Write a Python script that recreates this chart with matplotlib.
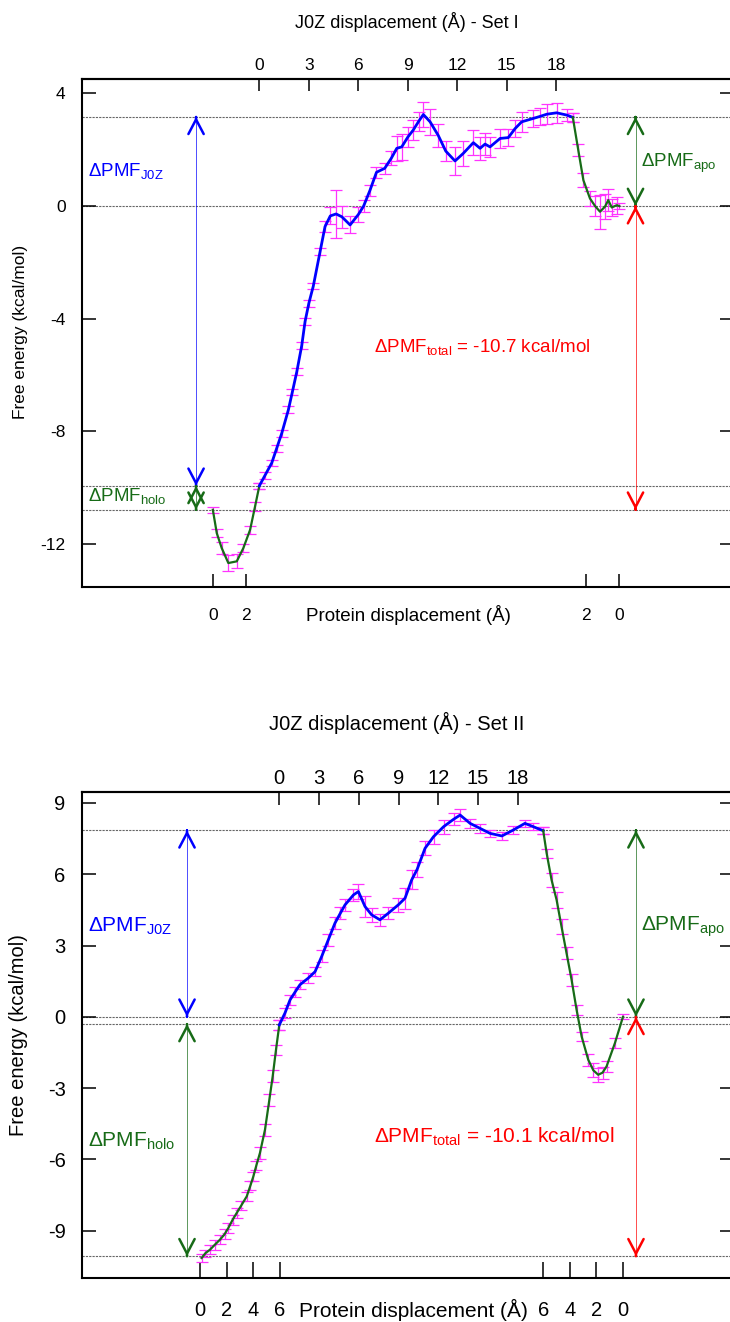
import matplotlib
matplotlib.use("Agg")
import matplotlib.pyplot as plt

plt.rcParams['font.family'] = ['Liberation Sans', 'DejaVu Sans']
plt.rcParams['mathtext.fontset'] = 'custom'
plt.rcParams['mathtext.rm'] = 'Liberation Sans'
plt.rcParams['mathtext.it'] = 'Liberation Sans:italic'
plt.rcParams['axes.unicode_minus'] = False

# ---------------- Set I data ----------------
# holo: protein displacement (A), PMF (kcal/mol), error
set1_holo_disp = [0.0, 0.24, 0.54, 0.94, 1.45, 1.85, 2.26, 2.56, 2.82]
set1_holo_pmf = [-10.78, -11.61, -12.14, -12.67, -12.61, -12.14, -11.49, -10.66, -9.93]
set1_holo_err = [0.1, 0.15, 0.2, 0.3, 0.25, 0.15, 0.15, 0.15, 0.1]

# J0Z: ligand displacement (A)
set1_j0z_disp = [0.0, 0.35, 0.75, 1.05, 1.36, 1.76, 2.0, 2.27, 2.57, 2.77, 3.0, 3.27,
                 3.68, 3.98, 4.3, 4.65, 5.0, 5.5, 6.0, 6.32, 6.7, 7.1, 7.6, 8.0,
                 8.33, 8.63, 9.0, 9.33, 9.65, 9.94, 10.35, 10.85, 11.3, 11.86, 12.36,
                 12.97, 13.38, 13.68, 13.98, 14.59, 15.09, 15.5, 15.9, 16.6, 17.0,
                 17.42, 18.02, 18.63, 19.0]
set1_j0z_pmf = [-9.93, -9.55, -9.12, -8.6, -8.06, -7.23, -6.6, -5.88, -4.95, -4.1, -3.45, -2.84,
                -1.62, -0.73, -0.35, -0.28, -0.38, -0.67, -0.3, 0.0, 0.55, 1.2, 1.34, 1.7,
                2.05, 2.1, 2.45, 2.7, 3.0, 3.25, 2.99, 2.5, 1.95, 1.6, 1.87,
                2.25, 2.05, 2.2, 2.1, 2.4, 2.43, 2.75, 2.99, 3.11, 3.18,
                3.26, 3.31, 3.23, 3.15]
set1_j0z_err = [0.1, 0.12, 0.12, 0.12, 0.12, 0.12, 0.12, 0.12, 0.12, 0.12, 0.12, 0.12,
                0.12, 0.2, 0.3, 0.85, 0.4, 0.3, 0.25, 0.2, 0.2, 0.2, 0.2, 0.25,
                0.45, 0.45, 0.35, 0.35, 0.35, 0.45, 0.45, 0.4, 0.35, 0.5, 0.45,
                0.45, 0.4, 0.4, 0.35, 0.35, 0.3, 0.3, 0.35, 0.3, 0.3,
                0.35, 0.35, 0.2, 0.15]

# apo: protein displacement (A)
set1_apo_disp = [2.81, 2.48, 2.17, 1.77, 1.46, 1.16, 0.86, 0.66, 0.45, 0.15, 0.0]
set1_apo_pmf = [3.15, 1.99, 0.92, 0.27, 0.0, -0.2, -0.02, 0.21, -0.05, 0.03, 0.0]
set1_apo_err = [0.15, 0.2, 0.25, 0.25, 0.35, 0.6, 0.45, 0.4, 0.3, 0.3, 0.1]

set1_levels = [3.17, 0.0, -9.93, -10.78]

# ---------------- Set II data ----------------
set2_holo_disp = [0.12, 0.4, 0.75, 1.1, 1.5, 1.85, 2.13, 2.45, 2.76, 3.1, 3.52, 3.8,
                  4.02, 4.25, 4.52, 4.9, 5.23, 5.48, 5.73, 5.98]
set2_holo_pmf = [-10.15, -9.95, -9.8, -9.6, -9.38, -9.15, -8.89, -8.55, -8.26, -7.95, -7.56, -7.1,
                 -6.72, -6.25, -5.73, -4.75, -3.49, -2.51, -1.39, -0.34]
set2_holo_err = [0.15, 0.15, 0.2, 0.2, 0.2, 0.2, 0.2, 0.2, 0.2, 0.2, 0.2, 0.2,
                 0.2, 0.2, 0.25, 0.25, 0.25, 0.25, 0.2, 0.2]

set2_j0z_disp = [0.0, 0.43, 0.81, 1.2, 1.56, 2.19, 2.7, 3.2, 3.7, 4.2, 4.6, 4.96,
                 5.6, 5.97, 6.47, 6.97, 7.6, 8.23, 8.98, 9.49, 9.99, 10.4, 11.0, 11.64,
                 12.4, 13.15, 13.65, 14.4, 15.15, 15.9, 16.8, 17.66, 18.54, 19.17, 19.92]
set2_j0z_pmf = [-0.34, 0.16, 0.71, 1.05, 1.35, 1.63, 1.9, 2.54, 3.24, 3.94, 4.35, 4.71,
                5.13, 5.27, 4.64, 4.29, 4.08, 4.36, 4.71, 4.99, 5.76, 6.2, 7.09, 7.58,
                8.0, 8.31, 8.49, 8.14, 7.93, 7.72, 7.61, 7.86, 8.14, 8.0, 7.83]
set2_j0z_err = [0.2, 0.2, 0.2, 0.2, 0.2, 0.2, 0.2, 0.25, 0.25, 0.25, 0.25, 0.25,
                0.25, 0.3, 0.45, 0.3, 0.25, 0.25, 0.3, 0.45, 0.4, 0.3, 0.3, 0.3,
                0.3, 0.25, 0.25, 0.2, 0.2, 0.15, 0.15, 0.15, 0.15, 0.15, 0.15]

set2_apo_disp = [6.02, 5.76, 5.39, 5.01, 4.64, 4.26, 3.88, 3.5, 3.12, 2.62, 2.24, 1.87,
                 1.54, 1.24, 0.61, 0.0]
set2_apo_pmf = [7.83, 6.88, 5.76, 4.92, 3.8, 2.68, 1.56, 0.29, -0.83, -1.81, -2.25, -2.44,
                -2.35, -2.09, -1.11, 0.0]
set2_apo_err = [0.15, 0.2, 0.3, 0.35, 0.3, 0.25, 0.25, 0.2, 0.2, 0.25, 0.3, 0.3,
                0.25, 0.25, 0.2, 0.1]

set2_levels = [7.85, 0.0, -0.3, -10.08]

j0z_ticks = [0, 3, 6, 9, 12, 15, 18]

BLUE = '#0000ff'
GREEN = '#176b17'
RED = '#ff0000'
MAGENTA = '#ff33ff'

fig = plt.figure(figsize=(7.30, 13.22), dpi=100)


def fx(px):
    return px / 730.0


def fy(py):
    return 1 - py / 1322.0


def head(ax, x, y, direction, color):
    # bold open arrow head pointing to (x, y)
    ax.annotate('', xy=(x, y), xytext=(x, y - direction * 0.02),
                arrowprops=dict(arrowstyle='->,head_length=1.05,head_width=0.55',
                                color=color, lw=1.8, shrinkA=0, shrinkB=0))


def double_arrow(ax, x, y1, y2, color):
    ax.plot([x, x], [y1, y2], color=color, lw=0.7, alpha=0.7, zorder=2)
    head(ax, x, y1, 1 if y1 > y2 else -1, color)
    head(ax, x, y2, 1 if y2 > y1 else -1, color)


def panel(ax, holo_x, holo_y, holo_e, j_x, j_y, j_e, apo_x, apo_y, apo_e,
          levels, fs, lw_main):
    ekw = dict(fmt='none', ecolor=MAGENTA, elinewidth=0.9, capsize=4.5, capthick=0.9, zorder=3)
    ax.errorbar(holo_x, holo_y, yerr=holo_e, **ekw)
    ax.errorbar(j_x, j_y, yerr=j_e, **ekw)
    ax.errorbar(apo_x, apo_y, yerr=apo_e, **ekw)
    ax.plot(holo_x, holo_y, color=GREEN, lw=lw_main * 0.8, zorder=4)
    ax.plot(j_x, j_y, color=BLUE, lw=lw_main, zorder=4)
    ax.plot(apo_x, apo_y, color=GREEN, lw=lw_main * 0.8, zorder=4)
    for lv in levels:
        ax.axhline(lv, color='#666666', lw=0.8, ls=(0, (2, 1)), zorder=1)
    for s in ax.spines.values():
        s.set_linewidth(1.5)
    ax.tick_params(axis='y', direction='in', length=10, width=1.1, right=True,
                   labelsize=fs, pad=11.5)


# ---------------- Set I panel ----------------
FS1 = 12.5
ax1 = fig.add_axes([fx(81.5), fy(586.7), fx(734 - 81.5), (586.7 - 79) / 1322.0])
off1_holo = 2.82
off1_apo = 21.81
h1x = [p - off1_holo for p in set1_holo_disp]
a1x = [off1_apo - p for p in set1_apo_disp]
panel(ax1, h1x, set1_holo_pmf, set1_holo_err, set1_j0z_disp, set1_j0z_pmf, set1_j0z_err,
      a1x, set1_apo_pmf, set1_apo_err, set1_levels, FS1, 2.0)
ax1.set_xlim(-10.78, 28.77)
ax1.set_ylim(-13.51, 4.51)
ax1.set_yticks([4, 0, -4, -8, -12])
ax1.set_xticks([0 - off1_holo, 2 - off1_holo, off1_apo - 2, off1_apo - 0])
ax1.set_xticklabels(['0', '2', '2', '0'])
ax1.tick_params(axis='x', direction='in', length=9.6, width=1.1, labelsize=FS1, pad=15)
top1 = ax1.secondary_xaxis('top')
top1.set_xticks(j0z_ticks)
top1.tick_params(direction='in', length=8.4, width=1.1, labelsize=FS1, pad=4.5)
top1.spines['top'].set_linewidth(1.5)

x_left1 = (196 - 259.3) / 16.5
x_right1 = (635.5 - 259.3) / 16.5
double_arrow(ax1, x_left1, 3.17, -9.93, BLUE)
double_arrow(ax1, x_left1, -9.93, -10.78, GREEN)
double_arrow(ax1, x_right1, 3.17, 0.0, GREEN)
double_arrow(ax1, x_right1, 0.0, -10.78, RED)
ax1.text((88 - 259.3) / 16.5, 1.25, 'ΔPMF$_{\\mathrm{J0Z}}$', color=BLUE, fontsize=13.5, va='center')
ax1.text((88 - 259.3) / 16.5, -10.3, 'ΔPMF$_{\\mathrm{holo}}$', color=GREEN, fontsize=13.5, va='center')
ax1.text((641 - 259.3) / 16.5, 1.5, 'ΔPMF$_{\\mathrm{apo}}$', color=GREEN, fontsize=13.5, va='center')
ax1.text((482 - 259.3) / 16.5, -5.0, 'ΔPMF$_{\\mathrm{total}}$ = -10.7 kcal/mol', color=RED,
         fontsize=13.5, va='center', ha='center')

fig.text(fx(407), fy(22), 'J0Z displacement (Å) - Set I', fontsize=13, ha='center', va='center')
fig.text(fx(408), fy(615), 'Protein displacement (Å)', fontsize=13.5, ha='center', va='center')
fig.text(fx(21), fy(332), 'Free energy (kcal/mol)', fontsize=12.5, ha='center', va='center',
         rotation=90)

# ---------------- Set II panel ----------------
FS2 = 14.5
ax2 = fig.add_axes([fx(81.5), fy(1277.7), fx(734 - 81.5), (1277.7 - 792) / 1322.0])
off2_holo = 5.98
off2_apo = 25.94
h2x = [p - off2_holo for p in set2_holo_disp]
a2x = [off2_apo - p for p in set2_apo_disp]
panel(ax2, h2x, set2_holo_pmf, set2_holo_err, set2_j0z_disp, set2_j0z_pmf, set2_j0z_err,
      a2x, set2_apo_pmf, set2_apo_err, set2_levels, FS2, 2.0)
ax2.set_xlim(-14.93, 34.32)
ax2.set_ylim(-10.98, 9.46)
ax2.set_yticks([9, 6, 3, 0, -3, -6, -9])
ax2.set_xticks([p - off2_holo for p in [0, 2, 4, 6]] + [off2_apo - p for p in [6, 4, 2, 0]])
ax2.set_xticklabels(['0', '2', '4', '6', '6', '4', '2', '0'])
ax2.tick_params(axis='x', direction='in', length=11.5, width=1.1, labelsize=FS2, pad=17)
top2 = ax2.secondary_xaxis('top')
top2.set_xticks(j0z_ticks)
top2.tick_params(direction='in', length=9.6, width=1.1, labelsize=FS2, pad=3)
top2.spines['top'].set_linewidth(1.5)

x_left2 = (187 - 279.3) / 13.25
x_right2 = (636 - 279.3) / 13.25
double_arrow(ax2, x_left2, 7.85, 0.0, BLUE)
double_arrow(ax2, x_left2, -0.3, -10.08, GREEN)
double_arrow(ax2, x_right2, 7.85, 0.0, GREEN)
double_arrow(ax2, x_right2, 0.0, -10.08, RED)
ax2.text((88 - 279.3) / 13.25, 3.8, 'ΔPMF$_{\\mathrm{J0Z}}$', color=BLUE, fontsize=15, va='center')
ax2.text((88 - 279.3) / 13.25, -5.26, 'ΔPMF$_{\\mathrm{holo}}$', color=GREEN, fontsize=15, va='center')
ax2.text((641 - 279.3) / 13.25, 3.8, 'ΔPMF$_{\\mathrm{apo}}$', color=GREEN, fontsize=15, va='center')
ax2.text((494 - 279.3) / 13.25, -5.05, 'ΔPMF$_{\\mathrm{total}}$ = -10.1 kcal/mol', color=RED,
         fontsize=15, va='center', ha='center')

fig.text(fx(397), fy(723), 'J0Z displacement (Å) - Set II', fontsize=14.5, ha='center', va='center')
fig.text(fx(413), fy(1310), 'Protein displacement (Å)', fontsize=15, ha='center', va='center')
fig.text(fx(18.5), fy(1035), 'Free energy (kcal/mol)', fontsize=14.5, ha='center', va='center',
         rotation=90)

fig.savefig('out.png', dpi=100)
